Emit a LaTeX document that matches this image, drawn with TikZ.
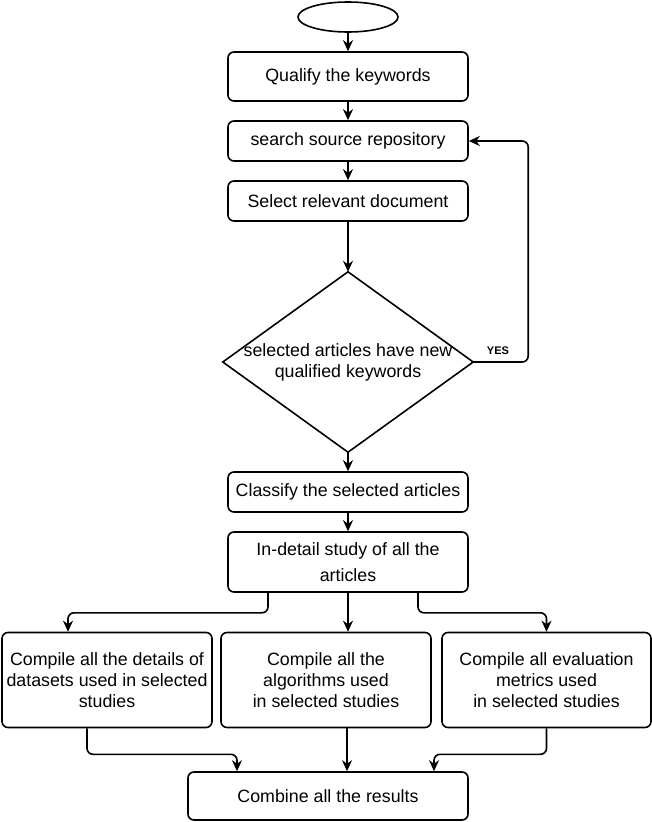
\documentclass[tikz,border=0pt]{standalone}
\usepackage{fontspec}
\setmainfont{Liberation Sans}
\usetikzlibrary{shapes.geometric,arrows.meta}
\tikzset{
  box/.style={draw, line width=1.6pt, rounded corners=6pt, align=center, inner sep=0pt,
    font=\fontsize{17.8}{21}\selectfont},
  arr/.style={line width=1.6pt, -{Stealth[length=11pt,width=10pt,inset=3.5pt]}},
  yeslbl/.style={font=\fontsize{11}{13}\selectfont\bfseries, inner sep=0pt},
}
\begin{document}
\begin{tikzpicture}[x=1pt,y=-1pt]
\useasboundingbox (0,0) rectangle (652,822);
\node[draw, ellipse, line width=1.6pt, minimum width=100pt, minimum height=30pt, inner sep=0pt] (start) at (348,17) {};
\node[box, minimum width=240pt, minimum height=49pt] (q) at (348,76.5) {Qualify the keywords};
\node[box, minimum width=240pt, minimum height=40pt] (s) at (348,141) {search source repository};
\node[box, minimum width=240pt, minimum height=40pt] (sel) at (348,201) {Select relevant document};
\node[align=center, inner sep=0pt, minimum width=250pt, minimum height=180pt,
  font=\fontsize{17.8}{21}\selectfont] (dia) at (348,362) {selected articles have new\\qualified keywords};
\draw[line width=1.6pt, line join=miter] (dia.north) -- (dia.east) -- (dia.south) -- (dia.west) -- cycle;
\node[box, minimum width=240pt, minimum height=40pt] (cls) at (348,492) {Classify the selected articles};
\node[box, minimum width=240pt, minimum height=60pt, font=\fontsize{17.8}{26}\selectfont] (det) at (348,562) {In-detail study of all the\\articles};
\node[box, minimum width=210pt, minimum height=95pt] (A) at (107,680) {Compile all the details of\\datasets used in selected\\studies};
\node[box, minimum width=210pt, minimum height=95pt] (B) at (326,680) {Compile all the\\algorithms used\\in selected studies};
\node[box, minimum width=209pt, minimum height=95pt] (C) at (546.5,680) {Compile all evaluation\\metrics used\\in selected studies};
\node[box, minimum width=280pt, minimum height=48pt] (comb) at (328,796) {Combine all the results};

\draw[arr] (start) -- (q);
\draw[arr] (q) -- (s);
\draw[arr] (s) -- (sel);
\draw[arr] (sel) -- (dia.north);
\draw[arr, rounded corners=6pt] (dia.east) -- ++(55,0) |- (s.east);
\node[yeslbl] (yes) at (498,351) {YES};
\draw[arr] (dia.south) -- (cls);
\draw[arr] (cls) -- (det);
\draw[arr, rounded corners=6pt] ([xshift=-80pt]det.south) -- ++(0,20) -| ([xshift=-39pt]A.north);
\draw[arr] (det.south) -- (det.south |- B.north);
\draw[arr, rounded corners=6pt] ([xshift=70pt]det.south) -- ++(0,20) -| (C.north);
\draw[arr, rounded corners=6pt] ([xshift=-20pt]A.south) -- ++(0,26) -| ([xshift=-91pt]comb.north);
\draw[arr] ([xshift=21pt]B.south) -- ([xshift=21pt]B.south |- comb.north);
\draw[arr, rounded corners=6pt] (C.south) -- ++(0,26) -| ([xshift=106pt]comb.north);
\end{tikzpicture}
\end{document}
